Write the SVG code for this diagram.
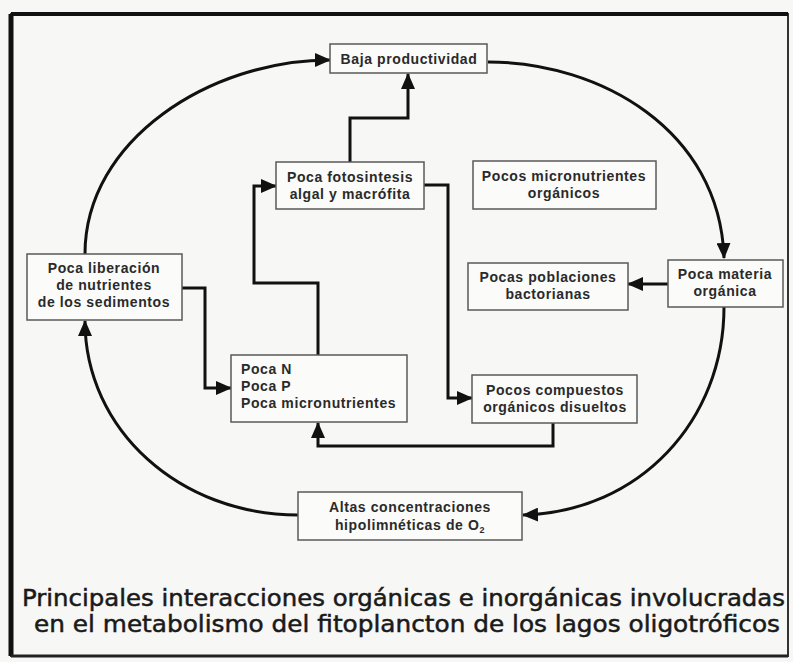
<svg xmlns="http://www.w3.org/2000/svg" width="793" height="662" viewBox="0 0 793 662">
<style>
.box{fill:#fbfbfa;stroke:#5a5a5a;stroke-width:1.5}
.t{font-family:"Liberation Sans",Arial,sans-serif;font-size:14px;font-weight:bold;letter-spacing:0.6px;fill:#2a2a2a;text-anchor:middle}
.tl{text-anchor:start}
.c{fill:none;stroke:#111;stroke-width:3}
.cap{font-family:"DejaVu Sans","Liberation Sans",sans-serif;font-size:23px;fill:#1a1a1a;stroke:#1a1a1a;stroke-width:0.5}
</style>
<defs>
<marker id="ah" markerUnits="userSpaceOnUse" markerWidth="16" markerHeight="14" viewBox="0 0 16 14" refX="15" refY="7" orient="auto">
<path d="M0,0 L16,7 L0,14 Z" fill="#111"/>
</marker>
</defs>
<rect x="0" y="0" width="793" height="662" fill="#f7f7f5"/>
<rect x="11" y="14" width="777" height="642" fill="none" stroke="#333" stroke-width="2"/>
<line x1="11" y1="14" x2="788" y2="14" stroke="#111" stroke-width="4"/>
<line x1="11" y1="14" x2="11" y2="656" stroke="#111" stroke-width="5"/>
<line x1="11" y1="656" x2="788" y2="656" stroke="#222" stroke-width="3"/>

<g id="connectors">
<path class="c" d="M488,62 C600,62 720,130 724,258" marker-end="url(#ah)"/>
<path class="c" d="M724,307 C724,420 640,512 523,515" marker-end="url(#ah)"/>
<path class="c" d="M298,515 C180,515 85,430 85,321" marker-end="url(#ah)"/>
<path class="c" d="M85,254 C85,140 210,60 330,60" marker-end="url(#ah)"/>
<path class="c" d="M350,162 V118 H408 V74" marker-end="url(#ah)"/>
<path class="c" d="M182,288 H205 V388 H231" marker-end="url(#ah)"/>
<path class="c" d="M318,355 V283 H254 V186 H276" marker-end="url(#ah)"/>
<path class="c" d="M424,185 H448 V398 H472" marker-end="url(#ah)"/>
<path class="c" d="M553,423 V446 H318 V423" marker-end="url(#ah)"/>
<path class="c" d="M668,284 H628" marker-end="url(#ah)"/>
</g>

<g id="baja">
<rect class="box" x="330" y="44" width="157" height="29"/>
<text class="t" x="409" y="64">Baja productividad</text>
</g>
<g id="fotosintesis">
<rect class="box" x="276" y="162" width="148" height="47"/>
<text class="t" x="350" y="182">Poca fotosintesis</text>
<text class="t" x="350" y="199">algal y macrófita</text>
</g>
<g id="micronutrientes-organicos">
<rect class="box" x="473" y="161" width="183" height="48"/>
<text class="t" x="564" y="181">Pocos micronutrientes</text>
<text class="t" x="564" y="198">orgánicos</text>
</g>
<g id="liberacion">
<rect class="box" x="27" y="254" width="155" height="66"/>
<text class="t" x="104" y="273">Poca liberación</text>
<text class="t" x="104" y="290">de nutrientes</text>
<text class="t" x="104" y="307">de los sedimentos</text>
</g>
<g id="poblaciones">
<rect class="box" x="468" y="263" width="160" height="47"/>
<text class="t" x="548" y="282">Pocas poblaciones</text>
<text class="t" x="548" y="299">bactorianas</text>
</g>
<g id="materia">
<rect class="box" x="668" y="260" width="115" height="47"/>
<text class="t" x="725" y="279">Poca materia</text>
<text class="t" x="725" y="296">orgánica</text>
</g>
<g id="npm">
<rect class="box" x="231" y="355" width="176" height="67"/>
<text class="t tl" x="241" y="374">Poca N</text>
<text class="t tl" x="241" y="391">Poca P</text>
<text class="t tl" x="241" y="408">Poca micronutrientes</text>
</g>
<g id="compuestos">
<rect class="box" x="472" y="375" width="165" height="48"/>
<text class="t" x="555" y="395">Pocos compuestos</text>
<text class="t" x="555" y="412">orgánicos disueltos</text>
</g>
<g id="altas">
<rect class="box" x="298" y="492" width="224" height="48"/>
<text class="t" x="410" y="512">Altas concentraciones</text>
<text class="t" x="410" y="530">hipolimnéticas de O<tspan font-size="9" dy="3">2</tspan></text>
</g>

<g id="caption">
<text class="cap" x="22" y="606" textLength="763" lengthAdjust="spacingAndGlyphs">Principales interacciones orgánicas e inorgánicas involucradas</text>
<text class="cap" x="34" y="632" textLength="746" lengthAdjust="spacingAndGlyphs">en el metabolismo del fitoplancton de los lagos oligotróficos</text>
</g>
</svg>
